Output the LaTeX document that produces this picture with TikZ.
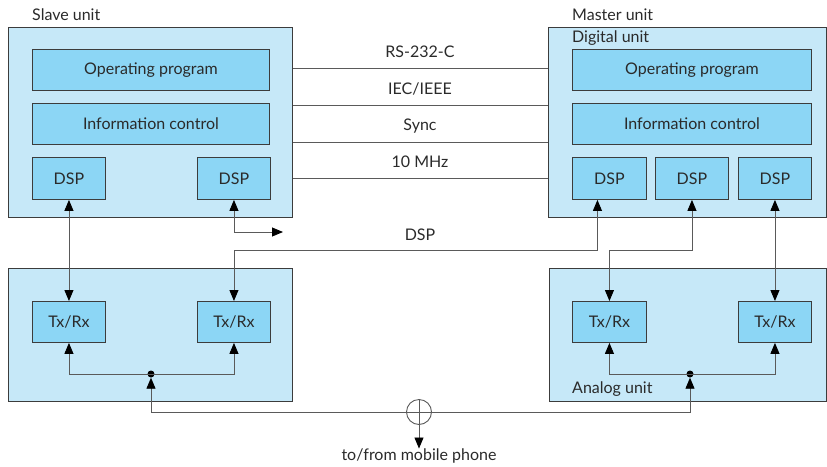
\documentclass[tikz,border=0pt]{standalone}
\usepackage{fontspec}
\setmainfont{Lato}
\usetikzlibrary{arrows.meta}
\definecolor{unitfill}{HTML}{C6E8F8}
\definecolor{blockfill}{HTML}{8CD6F5}
\definecolor{edge}{HTML}{3C3C3C}
\definecolor{wire}{HTML}{5A5A5A}
\definecolor{ink}{HTML}{2A2A2A}
\tikzset{
  unitbox/.style={draw=edge, fill=unitfill, line width=0.9pt, inner sep=0pt, anchor=north west},
  block/.style={draw=edge, fill=blockfill, line width=0.9pt, inner sep=0pt, anchor=north west,
                font=\fontsize{16}{18}\selectfont, text=ink},
  lbl/.style={font=\fontsize{16}{18}\selectfont, text=ink, inner sep=0pt},
  wireline/.style={draw=wire, line width=0.9pt},
  biarrow/.style={wireline, {Triangle[length=11pt,width=9pt,black]}-{Triangle[length=11pt,width=9pt,black]}},
  onearrow/.style={wireline, -{Triangle[length=11pt,width=9pt,black]}},
  dot/.style={circle, fill=black, inner sep=0pt, minimum size=7pt}
}
\begin{document}
\begin{tikzpicture}[x=1pt,y=-1pt]
\useasboundingbox (0,0) rectangle (827,466);

% ---------- slave unit ----------
\node[unitbox, minimum width=284pt, minimum height=190pt] (slave) at (8,27) {};
\node[lbl, anchor=west] (slavelbl) at (32,15) {Slave unit};
\node[block, minimum width=237pt, minimum height=41pt] (sop) at (32,49) {Operating program};
\node[block, minimum width=237pt, minimum height=41pt] (sinfo) at (32,103) {Information control};
\node[block, minimum width=73pt, minimum height=42pt] (sdspL) at (32,157) {DSP};
\node[block, minimum width=73pt, minimum height=42pt] (sdspR) at (197,157) {DSP};

\node[unitbox, minimum width=284pt, minimum height=133pt] (sana) at (8,268) {};
\node[block, minimum width=73pt, minimum height=41pt] (stxL) at (32,301) {Tx/Rx};
\node[block, minimum width=73pt, minimum height=41pt] (stxR) at (197,301) {Tx/Rx};

% ---------- master unit ----------
\node[unitbox, minimum width=278pt, minimum height=190pt] (master) at (548,27) {};
\node[lbl, anchor=west] (masterlbl) at (572,15) {Master unit};
\node[lbl, anchor=west] (digitallbl) at (572,38) {Digital unit};
\node[block, minimum width=239pt, minimum height=41pt] (mop) at (572,49) {Operating program};
\node[block, minimum width=239pt, minimum height=41pt] (minfo) at (572,103) {Information control};
\node[block, minimum width=74pt, minimum height=42pt] (mdsp1) at (572,157) {DSP};
\node[block, minimum width=73pt, minimum height=42pt] (mdsp2) at (655,157) {DSP};
\node[block, minimum width=73pt, minimum height=42pt] (mdsp3) at (738,157) {DSP};

\node[unitbox, minimum width=277pt, minimum height=133pt] (mana) at (549,268) {};
\node[lbl, anchor=west] (analoglbl) at (572,389) {Analog unit};
\node[block, minimum width=74pt, minimum height=41pt] (mtx1) at (572,301) {Tx/Rx};
\node[block, minimum width=73pt, minimum height=41pt] (mtx2) at (738,301) {Tx/Rx};

% ---------- interface lines between the units ----------
\foreach \yy/\txt in {68/{RS-232-C}, 105/{IEC/IEEE}, 142/{Sync}, 178/{10 MHz}}{
  \draw[wireline] (slave.east |- 0,\yy) -- (master.west |- 0,\yy);
  \node[lbl] at (420,\yy-16) {\txt};
}
\node[lbl] (dsplbl) at (420,235) {DSP};

% ---------- DSP links ----------
\coordinate (sout) at (283,232);
\draw[biarrow] (sdspL.south) -- (stxL.north);
\draw[biarrow] (sdspR.south) |- (sout);
\draw[biarrow] ([xshift=-12pt]mdsp1.south) -- ++(0,51) -| (stxR.north);
\draw[biarrow] (mdsp2.south) -- ++(0,51) -| (mtx1.north);
\draw[biarrow] (mdsp3.south) -- (mtx2.north);

% ---------- RF distribution ----------
\node[dot] (sjoin) at (151,374) {};
\node[dot] (mjoin) at (690,374) {};
\draw[onearrow] (sjoin.center) -| (stxL.south);
\draw[onearrow] (sjoin.center) -| (stxR.south);
\draw[onearrow] (mjoin.center) -| (mtx1.south);
\draw[onearrow] (mjoin.center) -| (mtx2.south);

\node[circle, draw=wire, line width=0.9pt, minimum size=25pt, inner sep=0pt] (ant) at (419,412) {};
\node[lbl] (phone) at (419,456) {to/from mobile phone};
\draw[onearrow] (ant.center) -| (sjoin.south);
\draw[onearrow] (ant.center) -| (mjoin.south);
\draw[onearrow] (ant.north) -- (phone.north);
\end{tikzpicture}
\end{document}
